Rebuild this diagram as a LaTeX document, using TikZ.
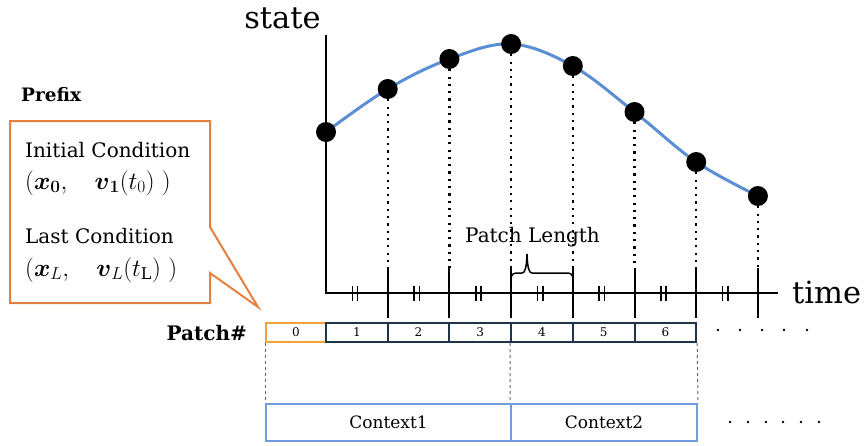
\documentclass[tikz,border=0pt]{standalone}
\usepackage{fontspec}
\setmainfont{DejaVu Serif}
\usepackage{amsmath}

\definecolor{curveblue}{HTML}{5B8FD5}
\definecolor{boxblue}{HTML}{6E9EDC}
\definecolor{calloutorange}{HTML}{E5813F}
\definecolor{zeroorange}{HTML}{F0A23C}
\definecolor{patchnavy}{HTML}{1F3446}
\definecolor{guidegray}{HTML}{56677C}

\tikzset{
	axisline/.style={line width=2pt, line cap=rect},
	tickline/.style={line width=2pt},
	hashline/.style={line width=1.6pt},
	guide/.style={line width=2.2pt, dash pattern=on 2.2pt off 5.1pt},
	curve/.style={draw=curveblue, line width=3pt},
	dotnode/.style={circle, fill=black, inner sep=0pt, minimum size=20pt},
	bigtext/.style={inner sep=0pt, font=\fontsize{30.5}{36}\selectfont},
	midtext/.style={inner sep=0pt, font=\fontsize{20}{24}\selectfont},
	mathtext/.style={inner sep=0pt, font=\fontsize{23}{27}\selectfont},
	boldtext/.style={inner sep=0pt, font=\fontsize{20}{24}\selectfont\bfseries},
	patchbox/.style={draw=patchnavy, line width=2pt, minimum width=61.7pt, minimum height=19pt, inner sep=0pt, font=\fontsize{12}{14}\selectfont},
	zerobox/.style={patchbox, draw=zeroorange, minimum width=60pt},
	contextbox/.style={draw=boxblue, line width=2pt, minimum height=37pt, inner sep=0pt, font=\fontsize{17}{20}\selectfont},
	callout/.style={draw=calloutorange, line width=2pt, line join=miter},
	linkline/.style={draw=guidegray, line width=1pt, dash pattern=on 3pt off 3pt}
}

\begin{document}
\begin{tikzpicture}[x=10pt, y=-10pt]
	\useasboundingbox (0,0) rectangle (86.7,44.5);

	% Axes and their labels
	\coordinate (O) at (32.6,29.3);
	\coordinate (ytop) at (32.6,3.6);
	\coordinate (xend) at (77.7,29.3);
	\draw[axisline] (ytop) -- (O) -- (xend);
	\node[bigtext, anchor=base] (state) at (28.25,2.8) {state};
	\node[bigtext, anchor=base west] (time) at (79.2,30.3) {time};

	% Samples along the state curve
	\foreach \k/\y in {0/13.2, 1/8.9, 2/5.9, 3/4.4, 4/6.6, 5/11.2, 6/16.2, 7/19.6}
		\coordinate (c\k) at ({32.6+6.17*\k},\y);
	\draw[curve] plot[smooth, tension=0.6] coordinates {(c0) (c1) (c2) (c3) (c4) (c5) (c6) (c7)};
	\foreach \k in {0,...,7}
		\node[dotnode] (p\k) at (c\k) {};

	% Ticks with dotted guides down from the samples
	\foreach \k in {1,...,7} {
		\coordinate (t\k) at ({32.6+6.17*\k},26.8);
		\coordinate (b\k) at ({32.6+6.17*\k},31.8);
		\draw[tickline] (t\k) -- (b\k);
		\draw[guide] (p\k) -- (t\k);
	}

	% Hash marks between ticks
	\foreach \k in {0,...,6} {
		\coordinate (h\k) at ({32.6+6.17*\k+2.9},29.3);
		\draw[hashline] ([xshift=-2.6pt,yshift=-7.5pt]h\k) -- ([xshift=-2.6pt,yshift=7.5pt]h\k);
		\draw[hashline] ([xshift=2.6pt,yshift=-7.5pt]h\k) -- ([xshift=2.6pt,yshift=7.5pt]h\k);
	}

	% Brace over one patch
	\draw[line width=1.5pt] (51.1,28.6) -- (51.1,28.0)
		.. controls (51.1,27.4) and (51.3,27.3) .. (51.8,27.3) -- (52.2,27.3)
		.. controls (52.5,27.3) and (52.65,26.8) .. (52.7,25.4)
		.. controls (52.75,26.8) and (52.9,27.3) .. (53.2,27.3) -- (56.6,27.3)
		.. controls (57.1,27.3) and (57.3,27.4) .. (57.3,28.0) -- (57.3,28.6);
	\node[midtext, anchor=base west] (plen) at (46.5,24.2) {Patch Length};

	% Patch row
	\node[boldtext, anchor=base east] (patchlbl) at (24.7,34.0) {Patch\#};
	\node[zerobox] (n0) at (29.6,33.25) {0};
	\foreach \k in {1,...,6}
		\node[patchbox] (n\k) at ({32.6+6.17*\k-3.085},33.25) {\k};
	\foreach \x in {71.8,74.0,76.2,78.4,80.7}
		\fill (\x,33.0) circle (1.4pt);

	% Context row
	\node[contextbox, minimum width=245pt] (ctx1) at (38.85,42.25) {Context1};
	\node[contextbox, minimum width=186pt] (ctx2) at (60.4,42.25) {Context2};
	\draw[linkline] (n0.south west) -- (ctx1.north west);
	\draw[linkline] (n4.south west) -- (ctx2.north west);
	\draw[linkline] (n6.south east) -- (ctx2.north east);
	\foreach \x in {73.0,74.8,76.6,78.3,80.1,81.9}
		\fill (\x,42.2) circle (1.4pt);

	% Prefix callout
	\node[boldtext, font=\fontsize{18.5}{22}\selectfont\bfseries, anchor=base west] (prefix) at (2.1,10.1) {Prefix};
	\draw[callout] (1.0,12.1) -- (21.0,12.1) -- (21.0,22.7) -- (25.8,30.7) -- (21.0,27.3) -- (21.0,30.3) -- (1.0,30.3) -- cycle;
	\node[midtext, anchor=base west] (init) at (2.5,15.7) {Initial Condition};
	\node[mathtext, anchor=base west] (initval) at (2.5,18.9) {$(\boldsymbol{x}_{\boldsymbol{0}},\quad \boldsymbol{v}_{\boldsymbol{1}}(t_0)\ )$};
	\node[midtext, anchor=base west] (last) at (2.5,24.3) {Last Condition};
	\node[mathtext, anchor=base west] (lastval) at (2.5,27.6) {$(\boldsymbol{x}_{L},\quad \boldsymbol{v}_{L}(t_{\mathrm{L}})\ )$};

\end{tikzpicture}
\end{document}
